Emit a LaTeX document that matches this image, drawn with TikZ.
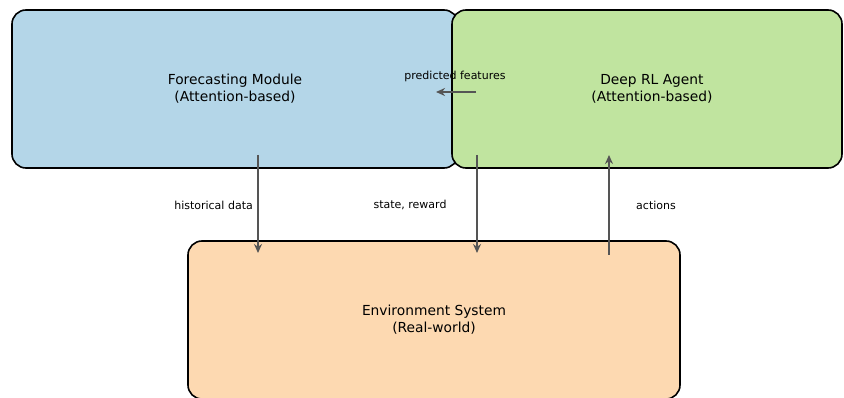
\documentclass[tikz,border=0pt]{standalone}
\usepackage{fontspec}
\setmainfont{DejaVu Sans}
\usetikzlibrary{arrows.meta}
\definecolor{fcblue}{HTML}{B4D6E8}
\definecolor{rlgreen}{HTML}{C0E49F}
\definecolor{envpeach}{HTML}{FDD9B1}
\definecolor{flowgray}{HTML}{555555}
\tikzset{
  module/.style={draw=black, line width=1.6pt, rounded corners=14pt, align=center,
    font=\fontsize{13.8}{17}\selectfont, inner sep=0pt},
  flow/.style={draw=flowgray, line width=1.6pt, -{Stealth[length=9pt,width=8pt]}},
  flowlabel/.style={font=\fontsize{11}{13}\selectfont, inner sep=1pt}
}
\begin{document}
\begin{tikzpicture}[x=1pt,y=-1pt]
\useasboundingbox (0,0) rectangle (844,398);
% modules
\node[module, fill=fcblue, minimum width=446pt, minimum height=158pt] (fc) at (235,89)
  {Forecasting Module\\(Attention-based)};
\node[module, fill=rlgreen, minimum width=390pt, minimum height=158pt] (rl) at (647,89)
  {\hspace*{10pt}Deep RL Agent\\\hspace*{10pt}(Attention-based)};
\node[module, fill=envpeach, minimum width=492pt, minimum height=158pt] (env) at (434,320)
  {Environment System\\(Real-world)};
% connector end points
\coordinate (hdA) at (258,155);
\coordinate (hdB) at (258,253);
\coordinate (srA) at (477,155);
\coordinate (srB) at (477,253);
\coordinate (acA) at (609,255);
\coordinate (acB) at (609,155);
\coordinate (pfA) at (476,92);
\coordinate (pfB) at (436,92);
% connectors
\draw[flow] (hdA) -- (hdB);
\draw[flow] (srA) -- (srB);
\draw[flow] (acA) -- (acB);
\draw[flow] (pfA) -- (pfB);
% labels
\node[flowlabel, anchor=east] (hdl) at (254,205) {historical data};
\node[flowlabel] (srl) at (410,205) {state, reward};
\node[flowlabel] (acl) at (656,205) {actions};
\node[flowlabel] (pfl) at (455,76) {predicted features};
\end{tikzpicture}
\end{document}
